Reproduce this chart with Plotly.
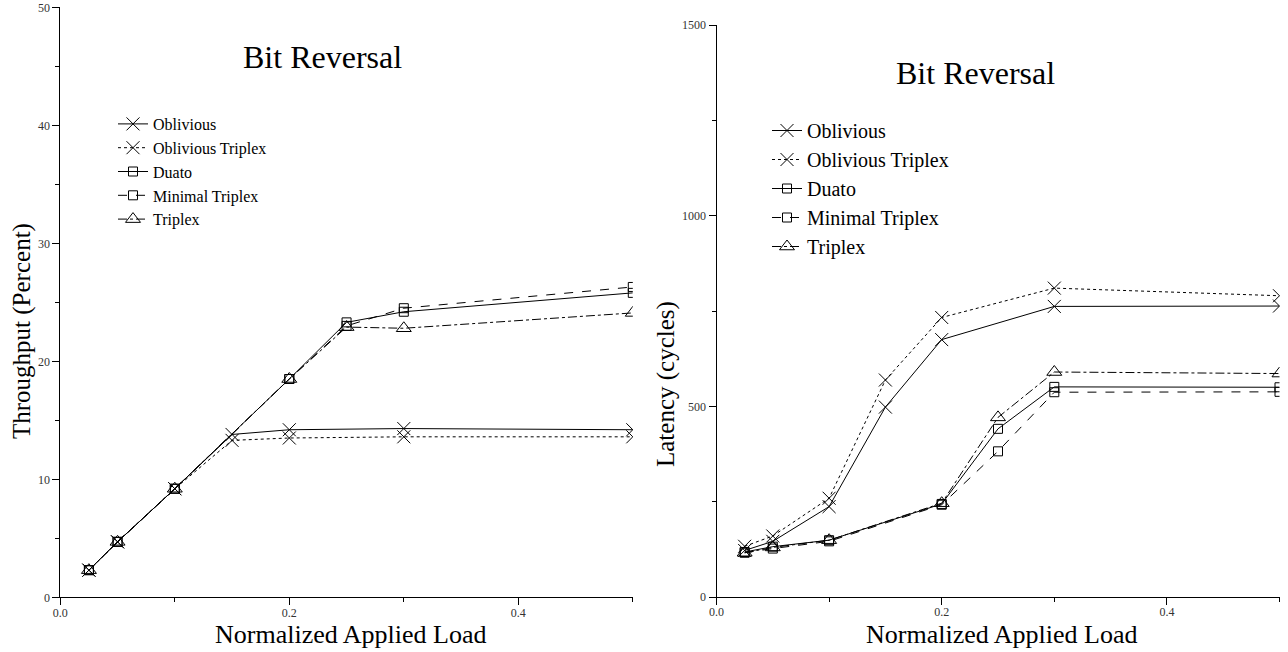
import plotly.graph_objects as go

# Normalized applied load sample points
load_obl = [0.025, 0.05, 0.1, 0.15, 0.2, 0.3, 0.5]
load_min = [0.025, 0.05, 0.1, 0.2, 0.25, 0.3, 0.5]

# Throughput (percent)
thr_oblivious = [2.3, 4.7, 9.2, 13.8, 14.2, 14.3, 14.2]
thr_obl_triplex = [2.3, 4.7, 9.2, 13.3, 13.5, 13.6, 13.6]
thr_duato = [2.3, 4.7, 9.2, 18.5, 23.3, 24.2, 25.8]
thr_min_triplex = [2.3, 4.7, 9.2, 18.5, 23.0, 24.5, 26.3]
thr_triplex = [2.3, 4.7, 9.2, 18.5, 22.9, 22.8, 24.1]

# Latency (cycles)
lat_oblivious = [122, 146, 237, 498, 675, 762, 763]
lat_obl_triplex = [133, 160, 259, 569, 733, 810, 790]
lat_duato = [118, 132, 149, 244, 441, 551, 550]
lat_min_triplex = [116, 127, 146, 242, 382, 537, 538]
lat_triplex = [116, 130, 149, 246, 471, 590, 586]

names = ["Oblivious", "Oblivious Triplex", "Duato", "Minimal Triplex", "Triplex"]
dashes = ["solid", "dot", "solid", "dash", "dashdot"]
symbols = ["x-thin-open", "x-thin-open", "square-open", "square-open", "triangle-up-open"]
sizes = [13, 13, 9, 9, 13]

FONT = "Liberation Serif"
W, H = 1288, 652

fig = go.Figure()

series_left = [(load_obl, thr_oblivious), (load_obl, thr_obl_triplex),
               (load_min, thr_duato), (load_min, thr_min_triplex), (load_min, thr_triplex)]
series_right = [(load_obl, lat_oblivious), (load_obl, lat_obl_triplex),
                (load_min, lat_duato), (load_min, lat_min_triplex), (load_min, lat_triplex)]


def add_series(series, xa, ya, leg):
    for i, (xs, ys) in enumerate(series):
        fig.add_trace(go.Scatter(
            x=xs, y=ys, name=names[i], mode="lines+markers",
            line=dict(color="black", width=1, dash=dashes[i]),
            marker=dict(symbol=symbols[i], size=sizes[i], color="black",
                        line=dict(color="black", width=1)),
            xaxis=xa, yaxis=ya, legend=leg))


add_series(series_left, "x", "y", "legend")
add_series(series_right, "x2", "y2", "legend2")

tickfont = dict(family=FONT, size=12, color="#333")
common = dict(ticks="outside", ticklen=7, tickcolor="black", showline=True, linecolor="black",
              linewidth=1, showgrid=False, zeroline=False, tickfont=tickfont, automargin=False)
xax = dict(common, range=[0, 0.5], tickvals=[0, 0.2, 0.4], ticktext=["0.0", "0.2", "0.4"],
           ticklabelstandoff=-3,
           minor=dict(dtick=0.1, tick0=0, ticks="outside", ticklen=4, tickcolor="black"))


def ann(text, x, y, size=25, angle=0):
    return dict(text=text, x=x / W, y=(H - y) / H, xref="paper", yref="paper",
                xanchor="center", yanchor="middle", textangle=angle, showarrow=False,
                font=dict(family=FONT, size=size, color="black"))


fig.update_layout(
    width=W, height=H,
    margin=dict(l=0, r=0, t=0, b=0),
    paper_bgcolor="white", plot_bgcolor="white",
    showlegend=True,
    xaxis=dict(xax, domain=[60.3 / W, 632.8 / W], anchor="y"),
    xaxis2=dict(xax, domain=[716.5 / W, 1279.5 / W], anchor="y2"),
    yaxis=dict(common, domain=[(H - 597.3) / H, (H - 7.3) / H], range=[0, 50], dtick=10,
               minor=dict(dtick=5, ticks="outside", ticklen=4, tickcolor="black"),
               anchor="x"),
    yaxis2=dict(common, domain=[(H - 597) / H, (H - 25) / H], range=[0, 1500], dtick=500,
                minor=dict(dtick=250, ticks="outside", ticklen=4, tickcolor="black"),
                anchor="x2"),
    legend=dict(x=113 / W, y=(H - 107) / H, xanchor="left", yanchor="top",
                bgcolor="rgba(0,0,0,0)", font=dict(family=FONT, size=16, color="black"),
                itemwidth=30, tracegroupgap=0),
    legend2=dict(x=767 / W, y=(H - 111) / H, xanchor="left", yanchor="top",
                 bgcolor="rgba(0,0,0,0)", font=dict(family=FONT, size=20, color="black"),
                 itemwidth=30, tracegroupgap=0),
    annotations=[
        ann("Bit Reversal", 322, 57, size=32),
        ann("Bit Reversal", 975, 73, size=32),
        ann("Normalized Applied Load", 350, 634, size=26),
        ann("Normalized Applied Load", 1001, 634, size=26),
        ann("Throughput (Percent)", 22, 331, angle=-90),
        ann("Latency (cycles)", 666, 384, angle=-90),
    ],
)

fig.write_html("out.html")
